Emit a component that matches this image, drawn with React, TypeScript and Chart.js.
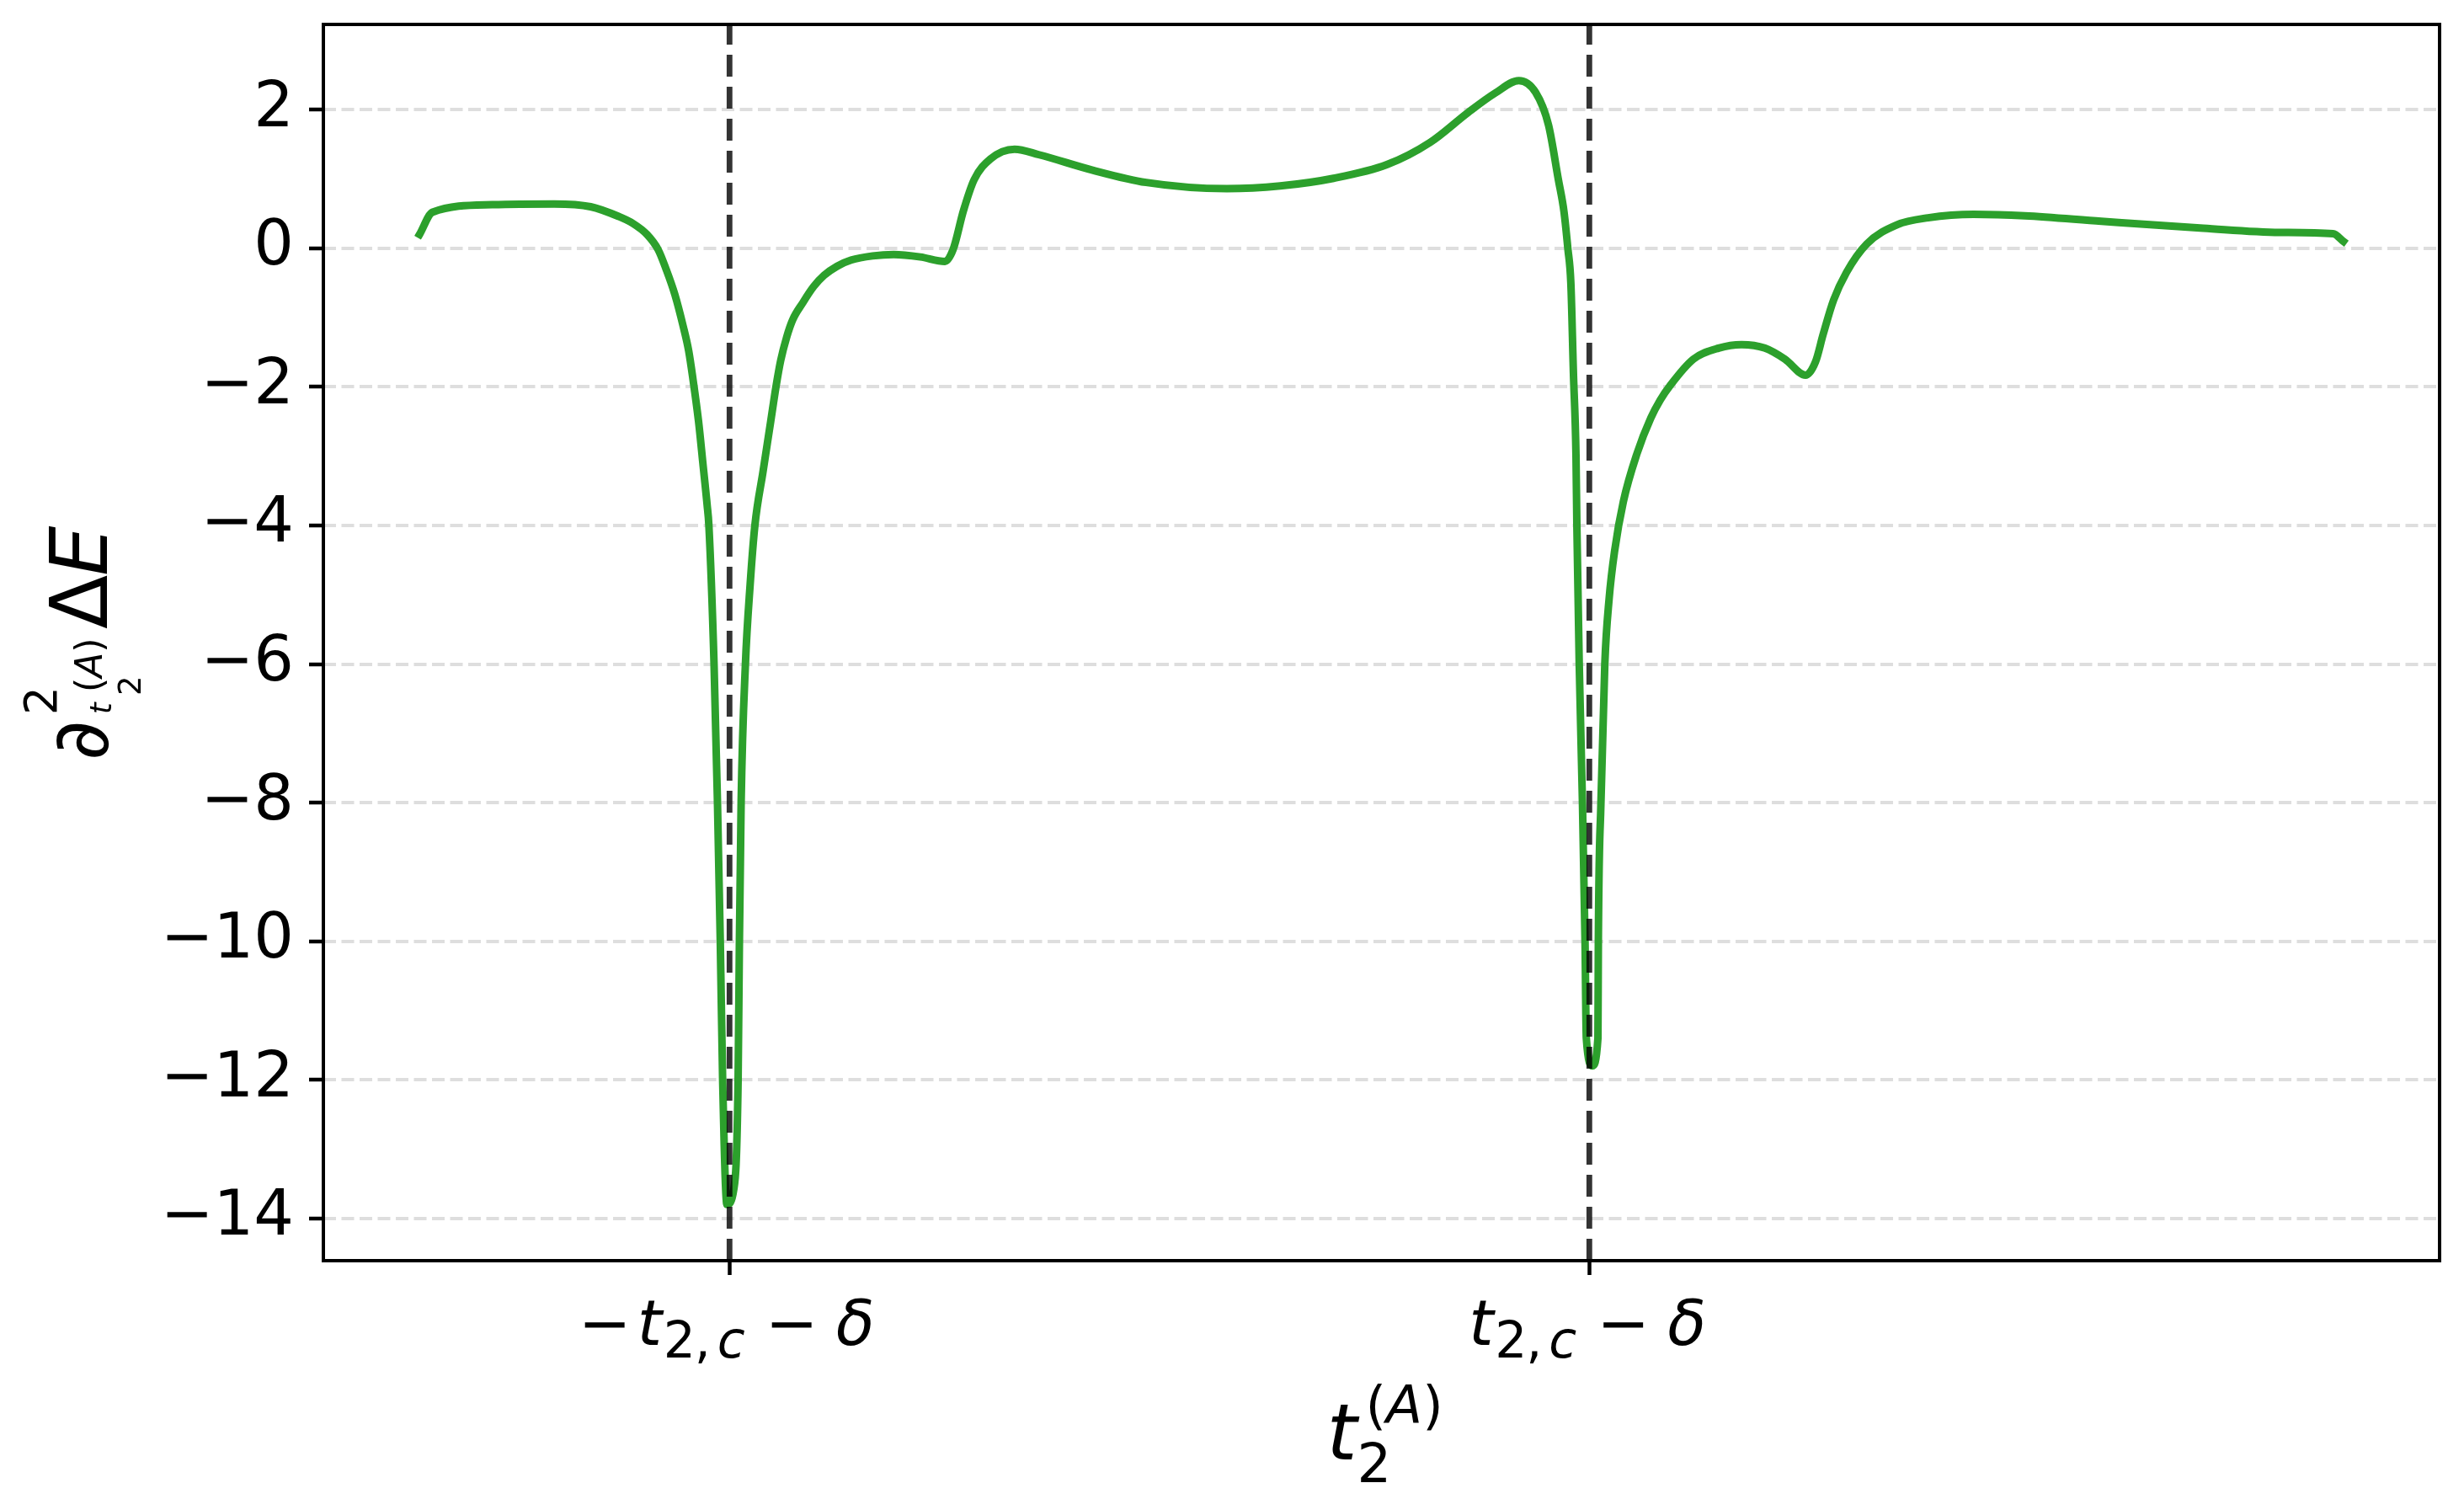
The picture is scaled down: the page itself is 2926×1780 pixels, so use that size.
import React, { useEffect, useRef } from "react";
import { Chart, LinearScale, LineController, PointElement, LineElement } from "chart.js";

Chart.register(LinearScale, LineController, PointElement, LineElement);

// x positions in units where t_{2,c} = 1 and delta = 0.5
const t2A = [
  -2.221, -2.191, -2.052, -1.908, -1.823, -1.758, -1.725, -1.692, -1.666, -1.647,
  -1.627, -1.608, -1.595, -1.585, -1.572, -1.562, -1.552, -1.548, -1.536, -1.528,
  -1.5215, -1.516, -1.506, -1.49, -1.48, -1.477, -1.473, -1.463, -1.452, -1.441,
  -1.422, -1.404, -1.392, -1.381, -1.367, -1.353, -1.33, -1.304, -1.28, -1.25,
  -1.217, -1.167, -1.118, -1.056, -0.999, -0.98, -0.956, -0.931, -0.893, -0.837,
  -0.78, -0.657, -0.531, -0.343, -0.219, -0.095, 0.03, 0.13, 0.218, 0.281,
  0.336, 0.375, 0.405, 0.428, 0.441, 0.45, 0.457, 0.463, 0.469, 0.471,
  0.4765, 0.484, 0.49, 0.493, 0.507, 0.52, 0.521, 0.527, 0.536, 0.546,
  0.559, 0.579, 0.611, 0.643, 0.665, 0.688, 0.742, 0.801, 0.854, 0.908,
  0.955, 1.003, 1.026, 1.044, 1.068, 1.098, 1.145, 1.216, 1.288, 1.394,
  1.513, 1.691, 1.928, 2.106, 2.23, 2.254,
];
const d2E = [
  0.2, 0.52, 0.63, 0.64, 0.6, 0.46, 0.36, 0.2, -0.02, -0.31,
  -0.67, -1.12, -1.48, -1.89, -2.5, -3.1, -3.71, -4.0, -6.0, -8.0,
  -10.0, -12.0, -13.8, -13.58, -12.0, -10.0, -8.0, -6.0, -4.85, -4.0,
  -3.22, -2.49, -2.0, -1.62, -1.28, -1.03, -0.79, -0.55, -0.39, -0.26,
  -0.17, -0.11, -0.09, -0.125, -0.19, -0.02, 0.54, 0.99, 1.29, 1.43,
  1.35, 1.13, 0.95, 0.86, 0.9, 1.01, 1.21, 1.53, 1.96, 2.24,
  2.42, 2.25, 1.78, 0.99, 0.53, 0.0, -0.5, -1.8, -3.0, -4.0,
  -6.0, -8.0, -10.0, -11.4, -11.8, -11.4, -10.0, -8.0, -6.0, -5.06,
  -4.36, -3.66, -2.96, -2.45, -2.19, -1.98, -1.6, -1.44, -1.39, -1.44,
  -1.6, -1.83, -1.64, -1.24, -0.75, -0.35, 0.06, 0.34, 0.44, 0.49,
  0.47, 0.39, 0.29, 0.23, 0.21, 0.1,
];
const yTicks = [-14, -12, -10, -8, -6, -4, -2, 0, 2];
// -t_{2,c} - delta and t_{2,c} - delta
const markerTicks = [-1.5, 0.5];

const FONT = '"DejaVu Sans"';

type Piece = { t: string; size: number; it?: boolean; x?: number; y: number };

const fontOf = (p: Piece) => `${p.it ? "italic " : ""}${p.size}px ${FONT}`;

// x = ink left offset (or follow the previous piece), y = baseline offset
function drawPieces(ctx: CanvasRenderingContext2D, pieces: Piece[], ox: number, oy: number) {
  let cursor = 0;
  for (const p of pieces) {
    ctx.font = fontOf(p);
    const m = ctx.measureText(p.t);
    const px = p.x === undefined ? cursor : p.x + m.actualBoundingBoxLeft;
    ctx.fillText(p.t, ox + px, oy + p.y);
    cursor = px + m.width;
  }
}

const tickPieces = (neg: boolean): Piece[] => {
  const base: Piece[] = [
    { t: "t", size: 75, it: true, x: 0, y: 0 },
    { t: "2", size: 60, x: 31, y: 15 },
    { t: ",", size: 60, x: 68, y: 15 },
    { t: "c", size: 60, it: true, x: 93, y: 15 },
    { t: "\u2212", size: 75, x: 155, y: 0 },
    { t: "\u03b4", size: 75, it: true, x: 232, y: 0 },
  ];
  return neg ? [{ t: "\u2212", size: 75, x: -67, y: 0 }, ...base] : base;
};

const xLabel: Piece[] = [
  { t: "t", size: 92, it: true, x: 0, y: 0 },
  { t: "2", size: 64, x: 35, y: 27 },
  { t: "(", size: 63, x: 46, y: -43 },
  { t: "A", size: 63, it: true, y: -43 },
  { t: ")", size: 63, y: -43 },
];

const yLabel: Piece[] = [
  { t: "\u2202", size: 92, x: 0, y: 0 },
  { t: "2", size: 53, x: 53, y: -61 },
  { t: "t", size: 35, it: true, x: 53, y: 4 },
  { t: "2", size: 37, x: 75, y: 39 },
  { t: "(", size: 44, x: 80, y: -7 },
  { t: "A", size: 44, it: true, y: -7 },
  { t: ")", size: 44, y: -7 },
  { t: "\u0394", size: 94, x: 152, y: -1 },
  { t: "E", size: 94, it: true, x: 217, y: -1 },
];

const decorations = {
  id: "decorations",
  afterDatasetsDraw(chart: any) {
    const { ctx, chartArea } = chart;
    const xs = chart.scales.x;
    ctx.save();
    ctx.strokeStyle = "rgba(0,0,0,0.8)";
    ctx.lineWidth = 6.8;
    ctx.lineCap = "butt";
    ctx.setLineDash([26, 12]);
    for (const v of markerTicks) {
      const px = xs.getPixelForValue(v);
      ctx.beginPath();
      ctx.moveTo(px, chartArea.bottom);
      ctx.lineTo(px, chartArea.top);
      ctx.stroke();
    }
    ctx.restore();
  },
  afterDraw(chart: any) {
    const { ctx, chartArea } = chart;
    const xs = chart.scales.x;
    ctx.save();
    ctx.strokeStyle = "#000";
    ctx.lineWidth = 4;
    ctx.setLineDash([]);
    ctx.strokeRect(chartArea.left, chartArea.top, chartArea.right - chartArea.left, chartArea.bottom - chartArea.top);

    ctx.fillStyle = "#000";
    ctx.textBaseline = "alphabetic";
    ctx.textAlign = "left";
    markerTicks.forEach((v, i) => {
      const px = xs.getPixelForValue(v);
      const pieces = tickPieces(i === 0);
      const lo = i === 0 ? -67 : 0;
      const hi = 278;
      drawPieces(ctx, pieces, px - (lo + hi) / 2, chartArea.bottom + 100);
    });

    const cx = (chartArea.left + chartArea.right) / 2;
    drawPieces(ctx, xLabel, cx - 60, chartArea.bottom + 236);

    const cy = (chartArea.top + chartArea.bottom) / 2;
    ctx.translate(128, cy + 136);
    ctx.rotate(-Math.PI / 2);
    drawPieces(ctx, yLabel, 0, 0);
    ctx.restore();
  },
};

const App: React.FC = () => {
  const canvasRef = useRef<HTMLCanvasElement | null>(null);
  const chartRef = useRef<any>(null);

  useEffect(() => {
    if (!canvasRef.current) return;
    const ctx = canvasRef.current.getContext("2d");
    if (!ctx) return;
    if (chartRef.current) chartRef.current.destroy();

    const xLo = Math.min(...t2A);
    const xHi = Math.max(...t2A);
    const yLo = Math.min(...d2E);
    const yHi = Math.max(...d2E);
    const xPad = (xHi - xLo) * 0.05;
    const yPad = (yHi - yLo) * 0.05;

    const noPad = (s: any) => {
      s.paddingTop = 0;
      s.paddingBottom = 0;
      s.paddingLeft = 0;
      s.paddingRight = 0;
    };

    chartRef.current = new Chart(ctx, {
      type: "line",
      data: {
        datasets: [
          {
            data: t2A.map((x, i) => ({ x, y: d2E[i] })),
            borderColor: "#2ca02c",
            borderWidth: 9,
            pointRadius: 0,
            cubicInterpolationMode: "monotone",
            borderJoinStyle: "round",
            borderCapStyle: "square",
            fill: false,
          },
        ],
      },
      options: {
        animation: false,
        responsive: true,
        maintainAspectRatio: false,
        events: [],
        elements: { line: { borderWidth: 9 } },
        layout: { padding: { top: 29, right: 29, left: 0, bottom: 0 } },
        plugins: { legend: { display: false }, tooltip: { enabled: false } },
        scales: {
          x: {
            type: "linear",
            min: xLo - xPad,
            max: xHi + xPad,
            afterBuildTicks: (s: any) => {
              s.ticks = markerTicks.map((value) => ({ value }));
            },
            afterFit: (s: any) => {
              s.height = 283;
              noPad(s);
            },
            ticks: { display: false },
            border: { display: false },
            grid: {
              display: true,
              drawOnChartArea: false,
              drawTicks: true,
              tickLength: 17,
              tickColor: "#000",
              tickWidth: 4.5,
            },
          },
          y: {
            type: "linear",
            min: yLo - yPad,
            max: yHi + yPad,
            afterBuildTicks: (s: any) => {
              s.ticks = yTicks.map((value) => ({ value }));
            },
            afterFit: (s: any) => {
              s.width = 384;
              noPad(s);
            },
            ticks: {
              color: "#000",
              padding: 18,
              font: { family: "DejaVu Sans", size: 75 },
              callback: (v: any) => (v < 0 ? "\u2212" + Math.abs(v) : String(v)),
            },
            border: { display: false, dash: [15, 6.5] },
            grid: {
              color: "#dedede",
              lineWidth: 4,
              drawTicks: true,
              tickLength: 17,
              tickColor: "#000",
              tickWidth: 4.5,
              tickBorderDash: [],
            },
          },
        },
      },
      plugins: [decorations],
    } as any);

    return () => {
      chartRef.current?.destroy();
      chartRef.current = null;
    };
  }, []);

  return (
    <div style={{ position: "fixed", left: 0, top: 0, width: "100vw", height: "100vh", background: "#fff" }}>
      <canvas ref={canvasRef}></canvas>
    </div>
  );
};

export default App;
